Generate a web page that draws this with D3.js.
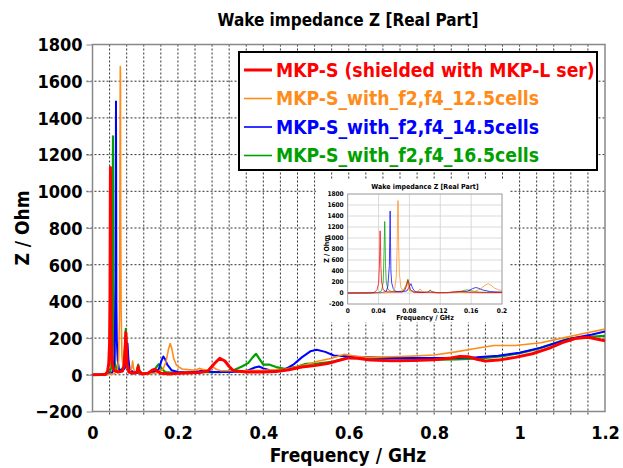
<!DOCTYPE html>
<html lang="en">
<head>
<meta charset="UTF-8">
<title>Wake impedance Z [Real Part]</title>
<style>
    html, body { margin: 0; background: #fff; }
    text { font-family: "DejaVu Sans Condensed", "DejaVu Sans", sans-serif; font-weight: bold; }
</style>
</head>
<body>
<div class="chart"></div>
<script src="https://cdnjs.cloudflare.com/ajax/libs/d3/7.8.5/d3.min.js"></script>
<script>
// [frequency GHz, Z Ohm]
var mkpS = [[0,0],[0.02,1],[0.03,3],[0.035,15],[0.038,60],[0.04,170],[0.041,450],[0.042,1130],[0.0425,900],[0.043,500],[0.044,200],[0.046,60],[0.05,25],[0.06,15],[0.07,20],[0.074,50],[0.076,120],[0.078,230],[0.079,180],[0.081,60],[0.085,15],[0.095,8],[0.104,15],[0.107,45],[0.109,20],[0.115,5],[0.13,8],[0.14,25],[0.145,30],[0.152,20],[0.16,8],[0.18,5],[0.2,8],[0.22,10],[0.25,12],[0.27,20],[0.285,60],[0.298,90],[0.31,75],[0.32,45],[0.33,22],[0.36,15],[0.4,15],[0.43,18],[0.46,28],[0.49,42],[0.52,50],[0.55,62],[0.58,80],[0.6,92],[0.62,90],[0.65,80],[0.7,77],[0.75,78],[0.8,82],[0.84,92],[0.86,100],[0.88,98],[0.9,85],[0.92,75],[0.95,80],[0.99,95],[1.03,115],[1.07,145],[1.1,175],[1.13,198],[1.16,205],[1.18,195],[1.2,185]];
var cells125 = [[0,0],[0.03,2],[0.05,5],[0.058,20],[0.061,80],[0.063,300],[0.064,800],[0.065,1680],[0.0655,1630],[0.066,900],[0.067,350],[0.069,100],[0.072,40],[0.075,80],[0.077,200],[0.078,150],[0.08,40],[0.088,15],[0.092,40],[0.094,75],[0.096,35],[0.1,10],[0.107,15],[0.11,8],[0.13,5],[0.15,10],[0.165,30],[0.172,70],[0.178,140],[0.182,170],[0.186,140],[0.19,90],[0.196,55],[0.2,45],[0.21,32],[0.225,28],[0.24,25],[0.25,35],[0.26,28],[0.27,25],[0.28,45],[0.29,30],[0.3,22],[0.35,22],[0.4,25],[0.45,30],[0.5,55],[0.53,75],[0.56,90],[0.59,112],[0.62,100],[0.65,95],[0.7,98],[0.75,102],[0.8,108],[0.85,125],[0.9,145],[0.94,160],[0.99,160],[1.05,175],[1.1,200],[1.15,225],[1.2,249]];
var cells145 = [[0,0],[0.03,2],[0.045,8],[0.05,30],[0.052,120],[0.054,500],[0.055,1490],[0.0555,920],[0.056,400],[0.057,185],[0.059,80],[0.062,30],[0.07,20],[0.077,40],[0.08,120],[0.082,170],[0.084,90],[0.087,30],[0.095,15],[0.105,10],[0.12,5],[0.14,10],[0.155,30],[0.162,80],[0.166,100],[0.17,85],[0.175,55],[0.185,25],[0.2,15],[0.22,12],[0.25,20],[0.26,25],[0.28,15],[0.32,15],[0.36,20],[0.38,40],[0.39,45],[0.4,35],[0.42,22],[0.45,28],[0.47,55],[0.49,95],[0.51,128],[0.525,136],[0.545,125],[0.565,105],[0.6,100],[0.65,95],[0.7,92],[0.75,91],[0.8,91],[0.85,92],[0.9,95],[0.95,104],[1.0,120],[1.05,148],[1.1,185],[1.13,202],[1.17,220],[1.2,236]];
var cells165 = [[0,0],[0.03,2],[0.04,10],[0.044,40],[0.046,200],[0.047,700],[0.048,1300],[0.0485,1000],[0.049,500],[0.05,200],[0.052,70],[0.056,30],[0.065,25],[0.072,40],[0.076,150],[0.078,250],[0.079,200],[0.081,60],[0.086,20],[0.095,10],[0.104,15],[0.107,55],[0.109,25],[0.115,8],[0.13,8],[0.145,25],[0.152,50],[0.155,58],[0.16,40],[0.17,15],[0.19,10],[0.22,12],[0.26,15],[0.3,15],[0.33,25],[0.35,45],[0.365,65],[0.375,95],[0.383,114],[0.39,90],[0.4,55],[0.415,55],[0.43,42],[0.45,32],[0.48,45],[0.5,60],[0.53,62],[0.56,70],[0.6,95],[0.65,92],[0.7,90],[0.75,86],[0.8,82],[0.85,84],[0.88,86],[0.92,92],[0.96,102],[1.0,118],[1.04,140],[1.08,170],[1.11,194],[1.15,205],[1.2,212]];

var seriesNames = ["MKP-S (shielded with MKP-L ser)", "MKP-S_with_f2,f4_12.5cells", "MKP-S_with_f2,f4_14.5cells", "MKP-S_with_f2,f4_16.5cells"];
var seriesData = [mkpS, cells125, cells145, cells165];
var colors = ["#ff0000", "#ff8c1a", "#0000ff", "#00a000"];
var widths = [3, 1.6, 2, 2.2];

var yTicks = [-200, 0, 200, 400, 600, 800, 1000, 1200, 1400, 1600, 1800];
var xTicks = [0, 0.2, 0.4, 0.6, 0.8, 1, 1.2];
var xGrid = d3.range(0, 31).map(function (i) { return i * 0.04; });
var insetXTicks = [0, 0.04, 0.08, 0.12, 0.16, 0.2];

var W = 623, H = 468;
var svg = d3.select(".chart").append("svg").attr("width", W).attr("height", H);

// ---- main chart ----
var x = d3.scaleLinear().domain([0, 1.2]).range([92.5, 605]);
var y = d3.scaleLinear().domain([-200, 1800]).range([411.5, 44.5]);

var grid = svg.append("g");
grid.selectAll("line.v").data(xGrid.slice(1, -1)).enter().append("line")
    .attr("x1", d => x(d)).attr("x2", d => x(d))
    .attr("y1", y(1800)).attr("y2", y(-200) + 3)
    .attr("stroke", "#333").attr("stroke-dasharray", "2,2");
grid.selectAll("line.h").data(yTicks.slice(1, -1)).enter().append("line")
    .attr("x1", x(0) - 6).attr("x2", x(1.2))
    .attr("y1", d => y(d)).attr("y2", d => y(d))
    .attr("stroke", "#333").attr("stroke-dasharray", "2,2");

svg.append("rect").attr("x", x(0)).attr("y", y(1800))
    .attr("width", x(1.2) - x(0)).attr("height", y(-200) - y(1800))
    .attr("fill", "none").attr("stroke", "#888").attr("stroke-width", 1.5);

var yAxis = d3.axisLeft(y).tickValues(yTicks).tickSize(6).tickFormat(d3.format("d"));
svg.append("g").attr("transform", `translate(${x(0)},0)`).call(yAxis)
    .call(g => g.select(".domain").remove())
    .call(g => g.selectAll("line").attr("stroke", "#888"))
    .call(g => g.selectAll("text").attr("font-size", 18).attr("fill", "#000").attr("dy", "0.35em").attr("x", -10));

var xAxis = d3.axisBottom(x).tickValues(xTicks).tickSize(0).tickFormat(d => d3.format("")(d));
svg.append("g").attr("transform", `translate(0,${y(-200)})`).call(xAxis)
    .call(g => g.select(".domain").remove())
    .call(g => g.selectAll("text").attr("font-size", 18).attr("fill", "#000").attr("y", 15).attr("dy", "0.71em"));

svg.append("text").attr("x", 348).attr("y", 26).attr("text-anchor", "middle")
    .attr("font-size", 17).text("Wake impedance Z [Real Part]");
svg.append("text").attr("x", 348).attr("y", 462).attr("text-anchor", "middle")
    .attr("font-size", 19).text("Frequency / GHz");
svg.append("text").attr("transform", `translate(29,${(y(1800) + y(-200)) / 2}) rotate(-90)`)
    .attr("text-anchor", "middle").attr("font-size", 19).text("Z / Ohm");

svg.append("clipPath").attr("id", "mainClip").append("rect")
    .attr("x", x(0)).attr("y", y(1800)).attr("width", x(1.2) - x(0)).attr("height", y(-200) - y(1800));

var line = d3.line().x(d => x(d[0])).y(d => y(d[1]));
var curves = svg.append("g").attr("clip-path", "url(#mainClip)");
[3, 2, 1, 0].forEach(function (i) {
    curves.append("path").attr("d", line(seriesData[i])).attr("fill", "none")
        .attr("stroke", colors[i]).attr("stroke-width", widths[i]).attr("stroke-linejoin", "round");
});

// legend
var legend = svg.append("g");
legend.append("rect").attr("x", 239).attr("y", 52).attr("width", 358).attr("height", 118)
    .attr("fill", "#fff").attr("stroke", "#000").attr("stroke-width", 2);
seriesNames.forEach(function (name, i) {
    var ly = 70 + i * 28.5;
    legend.append("line").attr("x1", 244).attr("x2", 272).attr("y1", ly).attr("y2", ly)
        .attr("stroke", colors[i]).attr("stroke-width", i == 0 ? 3 : 1.6);
    legend.append("text").attr("x", 276).attr("y", ly).attr("dy", "0.36em")
        .attr("font-size", 19.2).attr("fill", colors[i]).text(name);
});

// ---- inset (zoom of 0..0.2 GHz) ----
var inset = svg.append("g");
inset.append("rect").attr("x", 316).attr("y", 180).attr("width", 193).attr("height", 142).attr("fill", "#fff");
var ix = d3.scaleLinear().domain([0, 0.2]).range([347.7, 502]);
var iy = d3.scaleLinear().domain([-200, 1800]).range([304, 194]);

inset.selectAll("line.iv").data(insetXTicks).enter().append("line")
    .attr("x1", d => ix(d)).attr("x2", d => ix(d)).attr("y1", iy(1800)).attr("y2", iy(-200))
    .attr("stroke", "#d0d0d0").attr("stroke-width", 0.8);
inset.selectAll("line.ih").data(yTicks).enter().append("line")
    .attr("x1", ix(0)).attr("x2", ix(0.2)).attr("y1", d => iy(d)).attr("y2", d => iy(d))
    .attr("stroke", "#d0d0d0").attr("stroke-width", 0.8);
inset.append("rect").attr("x", ix(0)).attr("y", iy(1800))
    .attr("width", ix(0.2) - ix(0)).attr("height", iy(-200) - iy(1800))
    .attr("fill", "none").attr("stroke", "#999").attr("stroke-width", 0.8);

inset.selectAll("text.iyt").data(yTicks).enter().append("text")
    .attr("x", ix(0) - 4).attr("y", d => iy(d)).attr("dy", "0.35em").attr("text-anchor", "end")
    .attr("font-size", 6.5).text(d => d);
inset.selectAll("text.ixt").data(insetXTicks).enter().append("text")
    .attr("x", d => ix(d)).attr("y", iy(-200) + 9).attr("text-anchor", "middle")
    .attr("font-size", 6.5).text(d => d3.format("")(d));
inset.append("text").attr("x", 425).attr("y", 189).attr("text-anchor", "middle")
    .attr("font-size", 7).text("Wake impedance Z [Real Part]");
inset.append("text").attr("x", 425).attr("y", 320).attr("text-anchor", "middle")
    .attr("font-size", 7).text("Frequency / GHz");
inset.append("text").attr("transform", `translate(329,${(iy(1800) + iy(-200)) / 2}) rotate(-90)`)
    .attr("text-anchor", "middle").attr("font-size", 7).text("Z / Ohm");

svg.append("clipPath").attr("id", "insetClip").append("rect")
    .attr("x", ix(0)).attr("y", iy(1800)).attr("width", ix(0.2) - ix(0)).attr("height", iy(-200) - iy(1800));
var iline = d3.line().x(d => ix(d[0])).y(d => iy(d[1]));
var icurves = inset.append("g").attr("clip-path", "url(#insetClip)");
[3, 2, 1, 0].forEach(function (i) {
    icurves.append("path").attr("d", iline(seriesData[i])).attr("fill", "none")
        .attr("stroke", colors[i]).attr("stroke-width", 1).attr("opacity", 0.75);
});
</script>
</body>
</html>
